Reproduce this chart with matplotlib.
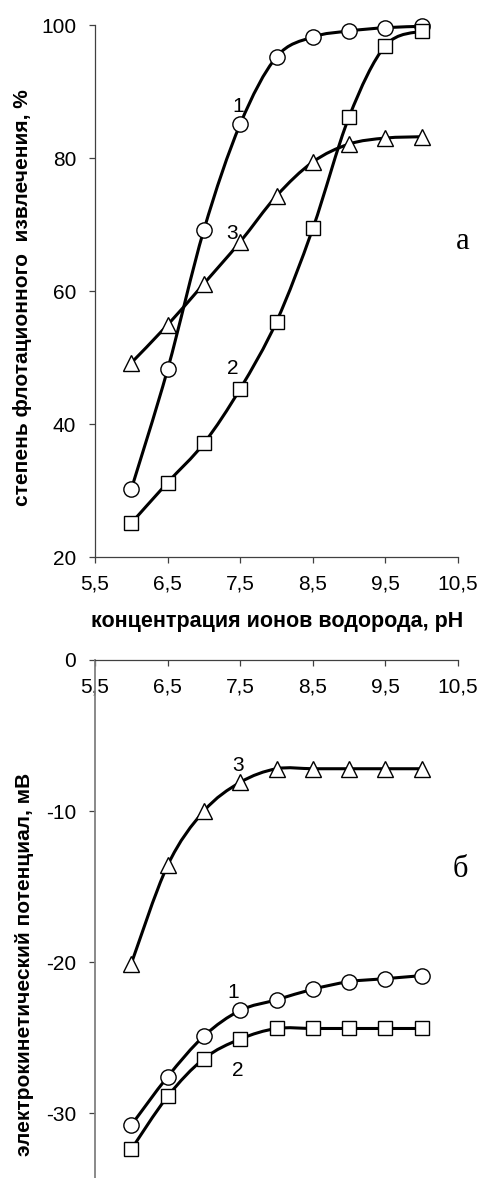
import numpy as np
import matplotlib
matplotlib.use("Agg")
import matplotlib.pyplot as plt
from matplotlib.path import Path
from matplotlib.patches import PathPatch

plt.rcParams['font.family'] = ['Liberation Sans', 'DejaVu Sans']

# pH values
ph = [6.0, 6.5, 7.0, 7.5, 8.0, 8.5, 9.0, 9.5, 10.0]

# степень флотационного извлечения, %
flot1 = [30.2, 48.2, 69.2, 85.1, 95.2, 98.2, 99.1, 99.6, 99.8]
flot2 = [25.1, 31.2, 37.1, 45.3, 55.4, 69.4, 86.2, 96.9, 99.1]
flot3 = [49.2, 54.9, 61.1, 67.4, 74.3, 79.4, 82.1, 83.0, 83.2]

# электрокинетический потенциал, мВ
zeta1 = [-30.8, -27.6, -24.9, -23.2, -22.5, -21.8, -21.3, -21.1, -20.9]
zeta2 = [-32.4, -28.9, -26.4, -25.1, -24.4, -24.4, -24.4, -24.4, -24.4]
zeta3 = [-20.1, -13.6, -10.0, -8.1, -7.2, -7.2, -7.2, -7.2, -7.2]

xticks = [5.5, 6.5, 7.5, 8.5, 9.5, 10.5]
xticklabels = ["5,5", "6,5", "7,5", "8,5", "9,5", "10,5"]


def smooth_line(ax, x, y):
    # сглаженная линия как в Excel (Безье через точки)
    p = np.column_stack([x, y])
    verts = [p[0]]
    codes = [Path.MOVETO]
    n = len(p)
    for i in range(n - 1):
        p0 = p[i - 1] if i > 0 else p[i]
        p3 = p[i + 2] if i + 2 < n else p[i + 1]
        c1 = p[i] + (p[i + 1] - p0) / 6.0
        c2 = p[i + 1] - (p3 - p[i]) / 6.0
        verts += [c1, c2, p[i + 1]]
        codes += [Path.CURVE4] * 3
    patch = PathPatch(Path(verts, codes), facecolor="none", edgecolor="black",
                      lw=2.2, zorder=2)
    ax.add_patch(patch)


def series(ax, x, y, marker, ms):
    smooth_line(ax, x, y)
    ax.plot(x, y, linestyle="none", marker=marker, ms=ms, mfc="white",
            mec="black", mew=1.0, zorder=3, clip_on=False)


fig = plt.figure(figsize=(4.83, 11.78), dpi=100)

# ---- а ----
ax1 = fig.add_axes([0.1967, 0.52716, 0.7516, 0.45161])
series(ax1, ph, flot1, "o", 11)
series(ax1, ph, flot2, "s", 10)
series(ax1, ph, flot3, "^", 11)
ax1.set_xlim(5.5, 10.5)
ax1.set_ylim(20, 100)
ax1.set_xticks(xticks)
ax1.set_xticklabels(xticklabels)
ax1.set_yticks([20, 40, 60, 80, 100])
for s in ["top", "right"]:
    ax1.spines[s].set_visible(False)
for s in ["left", "bottom"]:
    ax1.spines[s].set_color("#404040")
    ax1.spines[s].set_linewidth(0.9)
ax1.tick_params(direction="out", length=4.5, width=0.9, color="#404040",
                labelsize=15)
ax1.tick_params(axis="y", pad=9)
ax1.tick_params(axis="x", pad=8)
ax1.text(7.47, 87.8, "1", fontsize=15, ha="center", va="center")
ax1.text(7.39, 68.7, "3", fontsize=15, ha="center", va="center")
ax1.text(7.40, 48.3, "2", fontsize=15, ha="center", va="center")
ax1.text(10.57, 67.4, "а", fontsize=22, family="Liberation Serif",
         ha="center", va="center", clip_on=False)
fig.text(23 / 483, 1 - 298 / 1178, "степень флотационного  извлечения, %",
         rotation=90, ha="center", va="center", fontsize=15, fontweight="bold")
fig.text(277 / 483, 1 - 622 / 1178, "концентрация ионов водорода, pH",
         ha="center", va="center", fontsize=15.5, fontweight="bold")

# ---- б ----
ax2 = fig.add_axes([0.1967, 0.0, 0.7516, 0.43973])
series(ax2, ph, zeta1, "o", 11)
series(ax2, ph, zeta2, "s", 10)
series(ax2, ph, zeta3, "^", 11)
ax2.set_xlim(5.5, 10.5)
ax2.set_ylim(-34.3, 0)
ax2.set_xticks(xticks)
ax2.set_xticklabels(xticklabels)
ax2.set_yticks([-30, -20, -10, 0])
ax2.set_yticklabels(["-30", "-20", "-10", "0"])
ax2.spines["bottom"].set_position(("data", 0))
ax2.spines["top"].set_visible(False)
ax2.spines["right"].set_visible(False)
ax2.spines["bottom"].set_color("#404040")
ax2.spines["bottom"].set_linewidth(0.9)
ax2.spines["left"].set_color("#808080")
ax2.spines["left"].set_linewidth(1.3)
ax2.tick_params(direction="out", length=4.5, width=0.9, color="#404040",
                labelsize=15)
ax2.tick_params(axis="y", pad=9)
ax2.tick_params(axis="x", pad=8)
ax2.text(7.40, -22.05, "1", fontsize=15, ha="center", va="center")
ax2.text(7.47, -27.2, "2", fontsize=15, ha="center", va="center")
ax2.text(7.47, -7.0, "3", fontsize=15, ha="center", va="center")
ax2.text(10.53, -13.9, "б", fontsize=22, family="Liberation Serif",
         ha="center", va="center", clip_on=False)
fig.text(25 / 483, 1 - 964 / 1178, "электрокинетический потенциал, мВ",
         rotation=90, ha="center", va="center", fontsize=15, fontweight="bold")

fig.savefig("out.png", dpi=100)
